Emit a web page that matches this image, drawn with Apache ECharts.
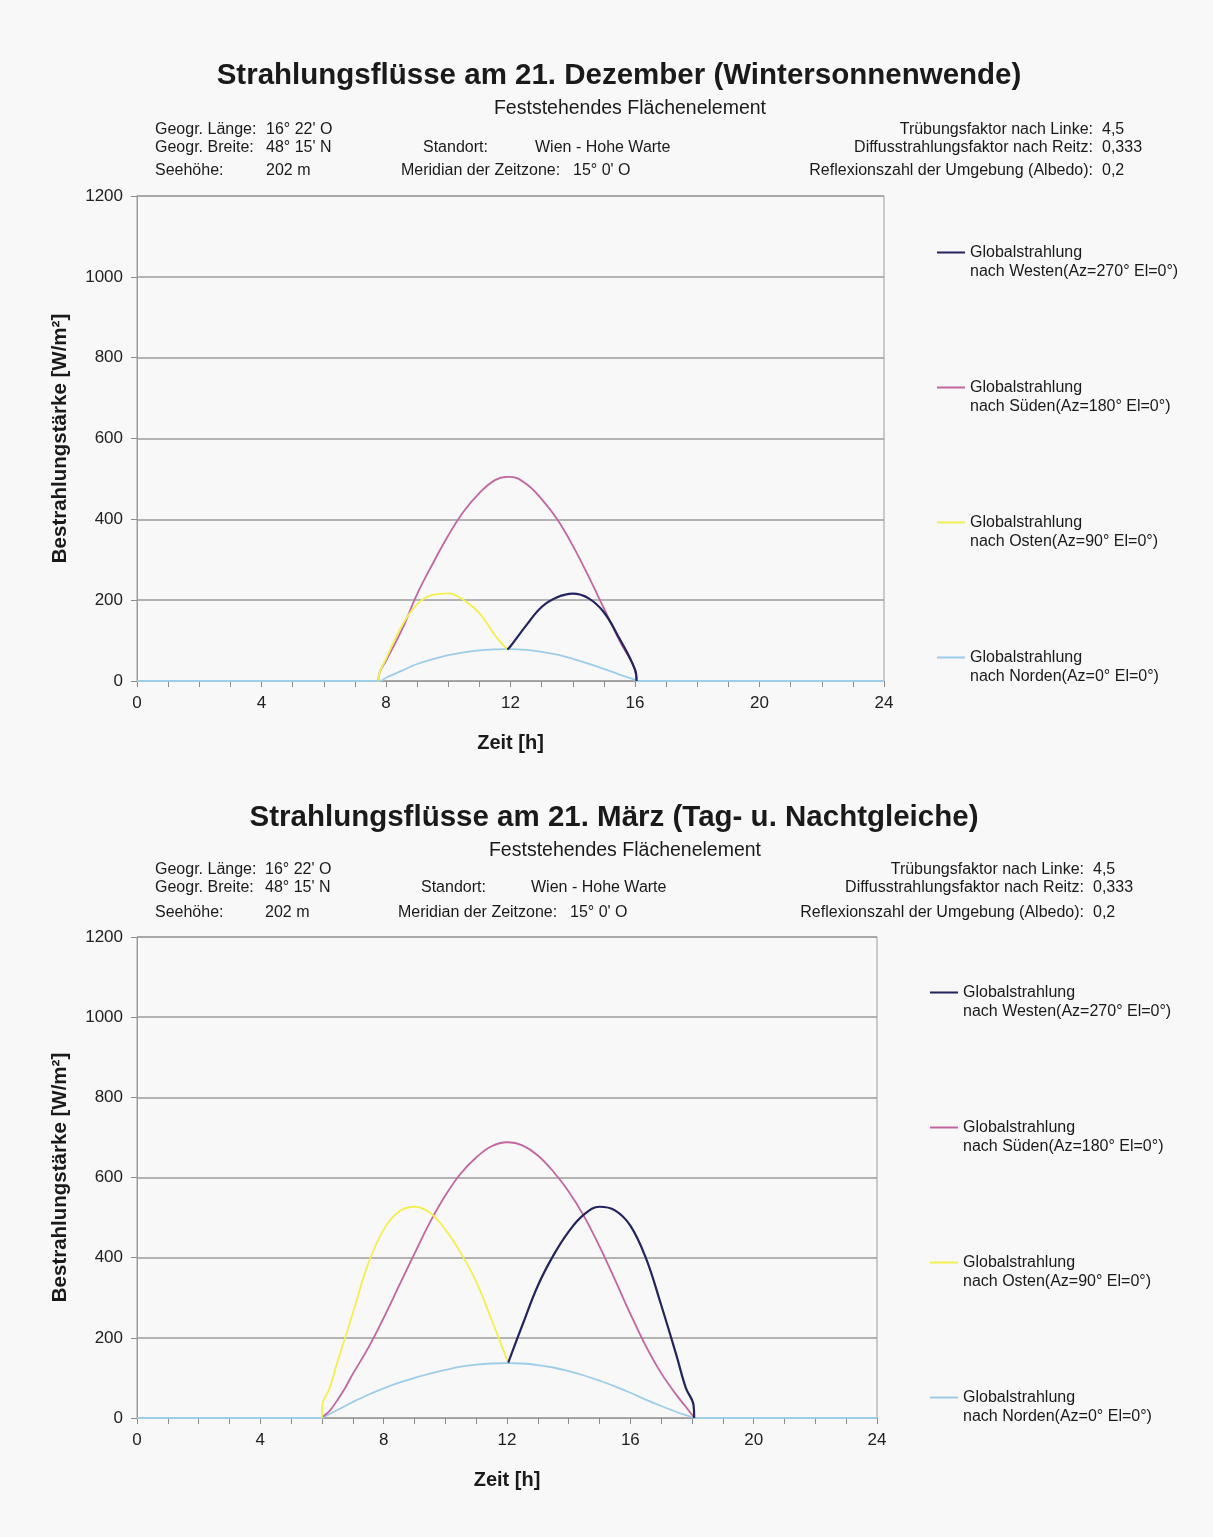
<!DOCTYPE html>
<html><head><meta charset="utf-8">
<script src="https://cdn.jsdelivr.net/npm/echarts/dist/echarts.min.js"></script>
<style>
html,body{margin:0;padding:0;background:#f8f8f8;}
#c1{position:absolute;left:0;top:0;width:1213px;height:768px;}
#c2{position:absolute;left:0;top:768px;width:1213px;height:769px;}
</style></head><body>
<div id="c1"></div><div id="c2"></div>
<script>
// ---- names / labels ----
const seriesNames = [
  'Globalstrahlung\nnach Westen(Az=270° El=0°)',
  'Globalstrahlung\nnach Süden(Az=180° El=0°)',
  'Globalstrahlung\nnach Osten(Az=90° El=0°)',
  'Globalstrahlung\nnach Norden(Az=0° El=0°)'
];
const yTicks = [0, 200, 400, 600, 800, 1000, 1200];
const xTicks = [0, 4, 8, 12, 16, 20, 24];

// ---- 21. Dezember ----
const decHours = [0, 7.75, 7.8, 8, 8.5, 9, 9.5, 10, 10.5, 11, 11.5, 11.9, 12, 12.5, 13, 13.5, 14, 14.5, 15, 15.5, 16, 16.05, 24];
const decWest  = [null,null,null,null,null,null,null,null,null,null,null,78,86,137,183,207,216,205,170,105,28,0,null];
const decSouth = [null,0,22,50,125,215,290,360,420,465,497,505,505,488,450,400,335,260,180,100,28,0,null];
const decEast  = [null,0,22,55,135,190,213,217,200,168,113,78,null,null,null,null,null,null,null,null,null,null,null];
const decNorth = [0,0,0,8,25,42,54,64,71,76,78,79,79,77,72,65,55,43,30,16,3,0,0];

// ---- 21. März ----
const marHours = [0, 6, 6.01, 6.25, 6.5, 6.75, 7, 7.5, 8, 8.5, 9, 9.5, 10, 10.5, 11, 11.5, 12, 12.04, 12.5, 13, 13.5, 14, 14.5, 15, 15.5, 16, 16.5, 17, 17.5, 17.8, 18.05, 18.07, 24];
const marWest  = [null,null,null,null,null,null,null,null,null,null,null,null,null,null,null,null,null,138,232,330,405,465,508,527,518,480,400,282,155,75,32,0,null];
const marSouth = [null,0,2,18,45,75,110,175,250,330,410,488,555,610,650,678,688,688,680,655,615,565,503,428,345,260,180,112,57,28,3,0,null];
const marEast  = [null,0,31,75,140,200,262,385,470,515,527,512,470,412,340,245,146,138,null,null,null,null,null,null,null,null,null,null,null,null,null,null,null];
const marNorth = [0,0,0,10,20,30,40,58,74,88,100,111,120,128,133,136,137,137,136,132,126,117,106,93,79,63,46,30,15,7,1,0,0];

const infoLeft = [['Geogr. Länge:', '16° 22\' O'], ['Geogr. Breite:', '48° 15\' N'], ['Seehöhe:', '202 m']];
const infoMid = [['Standort:', 'Wien - Hohe Warte'], ['Meridian der Zeitzone:', '15° 0\' O']];
const infoRight = [['Trübungsfaktor nach Linke:', '4,5'], ['Diffusstrahlungsfaktor nach Reitz:', '0,333'], ['Reflexionszahl der Umgebung (Albedo):', '0,2']];

const colors = ['#23235f', '#c266a0', '#f4ef50', '#9dcde9'];
const FONT = '"Liberation Sans", Arial, sans-serif';

function pairs(h, v) { return h.map((x, i) => [x, v[i]]); }

function txt(t, x, y, size, opts) {
  opts = opts || {};
  return {
    type: 'text', x: x, y: y, silent: true,
    style: {
      text: t, fill: '#1a1a1a',
      font: (opts.bold ? 'bold ' : '') + size + 'px ' + FONT,
      align: opts.align || 'left', verticalAlign: 'middle',
      textAlign: opts.align || 'left', textVerticalAlign: 'middle'
    }
  };
}

function build(c) {
  const g = [];
  g.push(txt(c.title, c.titleX, c.titleY, 29.5, {bold: true, align: 'center'}));
  g.push(txt('Feststehendes Flächenelement', c.subX, c.subY, 19.5, {align: 'center'}));
  infoLeft.forEach((r, i) => {
    g.push(txt(r[0], 155, c.rows[i], 16));
    g.push(txt(r[1], c.valX, c.rows[i], 16));
  });
  g.push(txt(infoMid[0][0], c.midX1, c.rows[1], 16));
  g.push(txt(infoMid[0][1], c.midV1, c.rows[1], 16));
  g.push(txt(infoMid[1][0], c.midX2, c.rows[2], 16));
  g.push(txt(infoMid[1][1], c.midV2, c.rows[2], 16));
  infoRight.forEach((r, i) => {
    g.push(txt(r[0], c.rEnd, c.rows[i], 16, {align: 'right'}));
    g.push(txt(r[1], c.rEnd + 9, c.rows[i], 16));
  });

  const vals = [c.west, c.south, c.east, c.north];
  const order = [3, 1, 2, 0]; // drawing order: north, south, east, west on top
  const series = order.map(k => ({
    name: seriesNames[k], type: 'line', symbol: 'none',
    smooth: 0.4, connectNulls: false,
    data: pairs(c.hours, vals[k]),
    lineStyle: {color: colors[k], width: k === 0 ? 2.2 : 1.8},
    itemStyle: {color: colors[k]},
    z: 3 + order.indexOf(k), animation: false
  }));

  return {
    backgroundColor: '#f8f8f8',
    animation: false,
    textStyle: {fontFamily: FONT},
    graphic: g,
    grid: {left: 137, top: c.gridTop, width: c.gridW, height: c.gridH, show: true,
      borderColor: '#9c9c9c', borderWidth: 1, backgroundColor: 'transparent'},
    legend: {
      orient: 'vertical', left: c.legLeft, top: c.legTop,
      data: seriesNames, itemWidth: 28, itemHeight: 2, itemGap: 78,
      icon: 'rect',
      formatter: n => ' \n' + n,
      textStyle: {fontSize: 16, lineHeight: 19, color: '#1a1a1a', fontFamily: FONT},
      selectedMode: false
    },
    xAxis: {
      type: 'value', min: 0, max: 24, interval: 1,
      name: 'Zeit [h]', nameLocation: 'middle', nameGap: 52,
      nameTextStyle: {fontSize: 20, fontWeight: 'bold', color: '#1a1a1a'},
      axisLine: {show: true, lineStyle: {color: '#9c9c9c', width: 1}},
      axisTick: {show: true, length: 6, inside: false, lineStyle: {color: '#8c8c8c'}},
      axisLabel: {fontSize: 17, color: '#222', margin: 14,
        formatter: v => xTicks.indexOf(v) >= 0 ? String(v) : ''},
      splitLine: {show: false}
    },
    yAxis: {
      type: 'value', min: 0, max: 1200, interval: 200,
      name: 'Bestrahlungstärke [W/m²]', nameLocation: 'middle', nameGap: 66,
      nameTextStyle: {fontSize: 20.5, fontWeight: 'bold', color: '#1a1a1a'},
      axisLine: {show: true, lineStyle: {color: '#9c9c9c', width: 1}},
      axisTick: {show: true, length: 6, lineStyle: {color: '#8c8c8c'}},
      axisLabel: {fontSize: 17, color: '#222', margin: 14,
        formatter: v => yTicks.indexOf(v) >= 0 ? String(v) : ''},
      splitLine: {show: true, lineStyle: {color: '#9c9c9c', width: 1.5}}
    },
    series: series
  };
}

const opt1 = build({
  title: 'Strahlungsflüsse am 21. Dezember (Wintersonnenwende)', titleX: 619, titleY: 76,
  subX: 630, subY: 109, rows: [130, 148, 171], valX: 266,
  midX1: 423, midV1: 535, midX2: 401, midV2: 573, rEnd: 1093,
  gridTop: 196, gridW: 747, gridH: 485, legLeft: 932, legTop: 219,
  hours: decHours, west: decWest, south: decSouth, east: decEast, north: decNorth
});
const opt2 = build({
  title: 'Strahlungsflüsse am 21. März (Tag- u. Nachtgleiche)', titleX: 614, titleY: 50,
  subX: 625, subY: 83, rows: [102, 120, 145], valX: 265,
  midX1: 421, midV1: 531, midX2: 398, midV2: 570, rEnd: 1084,
  gridTop: 169, gridW: 740, gridH: 481, legLeft: 925, legTop: 191,
  hours: marHours, west: marWest, south: marSouth, east: marEast, north: marNorth
});

echarts.init(document.getElementById('c1'), null, {renderer: 'canvas'}).setOption(opt1);
echarts.init(document.getElementById('c2'), null, {renderer: 'canvas'}).setOption(opt2);
</script>
</body></html>
